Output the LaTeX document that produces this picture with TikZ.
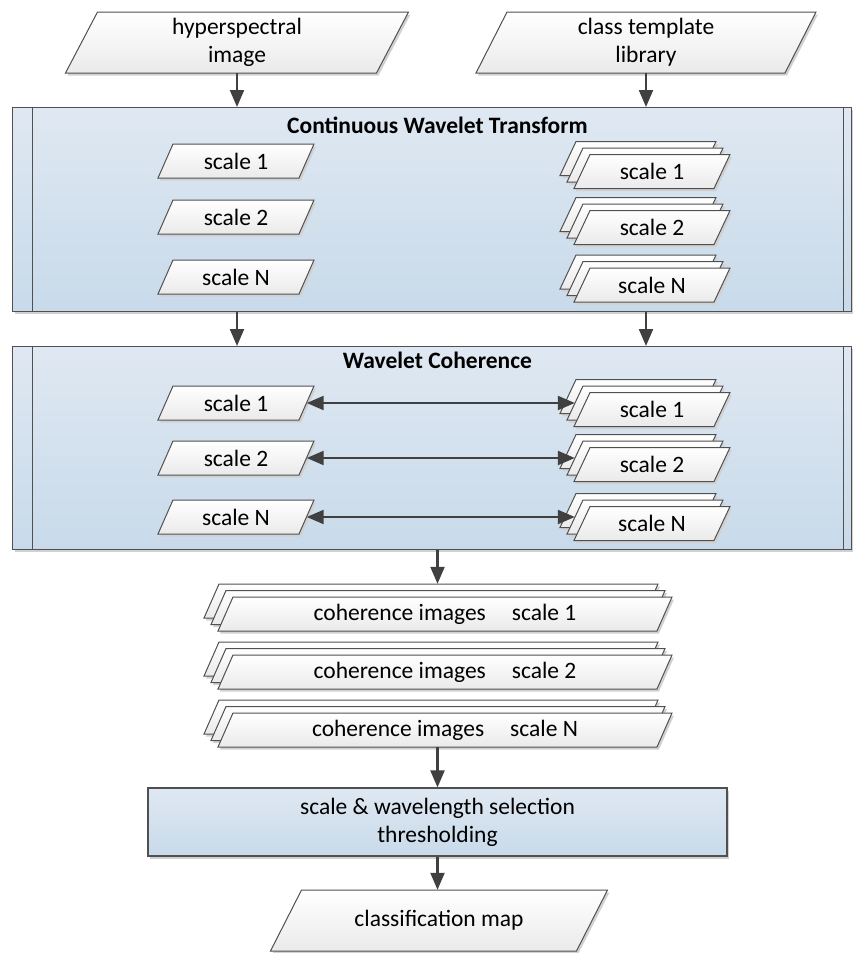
\documentclass[tikz,border=0pt]{standalone}
\usepackage{fontspec}
\setmainfont{Carlito}
\usetikzlibrary{arrows.meta,shadows}
\definecolor{edge}{HTML}{505050}
\definecolor{arrowc}{HTML}{404040}
\definecolor{laneTop}{HTML}{DFE8F2}
\definecolor{laneBot}{HTML}{C8DAEA}
\definecolor{ioBot}{HTML}{EAEAEA}
\tikzset{
  softshadow/.style={drop shadow={shadow xshift=2pt,shadow yshift=-2.5pt,fill=black!18,opacity=1}},
  iofill/.style={draw=edge, line width=1pt, top color=white, bottom color=ioBot, softshadow},
  lanefill/.style={draw=edge, line width=1.2pt, top color=laneTop, bottom color=laneBot, softshadow, inner sep=0pt},
  lbl/.style={font=\fontsize{23.5}{28}\selectfont, align=center, inner sep=0pt},
  ttl/.style={font=\fontsize{23.5}{28}\selectfont\bfseries, inner sep=0pt},
  tip/.tip={Triangle[length=17pt,width=14pt]},
  arr/.style={draw=arrowc, line width=2.2pt, -tip},
  darr/.style={draw=arrowc, line width=2.2pt, tip-tip},
}
% data parallelogram: name, cx, cy, midline width, height, skew, text
\newcommand\iobox[7]{%
  \path[iofill] ({#2-#4/2+#6/2},{#3-#5/2}) -- ({#2+#4/2+#6/2},{#3-#5/2})
    -- ({#2+#4/2-#6/2},{#3+#5/2}) -- ({#2-#4/2-#6/2},{#3+#5/2}) -- cycle;
  \node[lbl, minimum width=#4pt, minimum height=#5pt] (#1) at (#2,#3) {#7};
}
% stack of three parallelograms; #1 names the middle sheet, #1b the back, #1f the front
\newcommand\iostack[7]{%
  \iobox{#1b}{#2-14}{#3-13}{#4}{#5}{#6}{}
  \iobox{#1}{#2-7}{#3-6.5}{#4}{#5}{#6}{}
  \iobox{#1f}{#2}{#3}{#4}{#5}{#6}{#7}
}
\begin{document}
\begin{tikzpicture}[x=1pt,y=-1pt]
\useasboundingbox (0,0) rectangle (852,953);

% inputs
\iobox{hyp}{237}{42.5}{311}{61}{32}{hyperspectral\\image}
\iobox{ctl}{646}{42.5}{309}{61}{31}{class template\\library}

% continuous wavelet transform lane
\node[lanefill, anchor=north west, minimum width=839pt, minimum height=204pt] (cwt) at (12,107) {};
\draw[edge, line width=1pt] (32,107) -- (32,311) (843,107) -- (843,311);
\node[ttl] (cwtt) at (437.5,125) {Continuous Wavelet Transform};

\iobox{a1}{236}{161}{141}{34}{15}{scale 1}
\iobox{a2}{236}{217}{141}{34}{15}{scale 2}
\iobox{aN}{236}{277}{141}{34}{15}{scale N}
\iostack{b1}{652}{171.5}{140}{34}{16}{scale 1}
\iostack{b2}{652}{227.5}{140}{34}{16}{scale 2}
\iostack{bN}{652}{285}{140}{34}{16}{scale N}

% wavelet coherence lane
\node[lanefill, anchor=north west, minimum width=839pt, minimum height=203pt] (wc) at (12,346) {};
\draw[edge, line width=1pt] (32,346) -- (32,549) (843,346) -- (843,549);
\node[ttl] (wct) at (437.5,360) {Wavelet Coherence};

\iobox{c1}{236}{403}{141}{34}{15}{scale 1}
\iobox{c2}{236}{458}{141}{34}{15}{scale 2}
\iobox{cN}{236}{517}{141}{34}{15}{scale N}
\iostack{d1}{652}{409.5}{140}{34}{16}{scale 1}
\iostack{d2}{652}{464.5}{140}{34}{16}{scale 2}
\iostack{dN}{652}{523.5}{140}{34}{16}{scale N}

% coherence image stacks
\iostack{ci1}{445}{614}{439}{34}{15}{coherence images\hspace{26pt}scale 1}
\iostack{ci2}{445}{672}{439}{34}{15}{coherence images\hspace{26pt}scale 2}
\iostack{ciN}{445}{730}{439}{34}{15}{coherence images\hspace{26pt}scale N}

% selection step and output
\node[lanefill, lbl, minimum width=579pt, minimum height=68pt] (sel) at (437.5,822)
  {scale \& wavelength selection\\thresholding};
\iobox{cls}{439}{920.5}{306}{61}{31}{classification map}

% connectors
\draw[arr] (hyp.south) -- (hyp.south |- cwt.north);
\draw[arr] (ctl.south) -- (ctl.south |- cwt.north);
\draw[arr] (cwt.south -| hyp) -- (wc.north -| hyp);
\draw[arr] (cwt.south -| ctl) -- (wc.north -| ctl);
\draw[darr] (c1.east) -- (d1.west);
\draw[darr] (c2.east) -- (d2.west);
\draw[darr] (cN.east) -- (dN.west);
\draw[arr] (wc.south -| sel) -- (ci1b.north -| sel);
\draw[arr] (ciNf.south -| sel) -- (sel.north);
\draw[arr] (sel.south) -- (sel.south |- cls.north);
\end{tikzpicture}
\end{document}
